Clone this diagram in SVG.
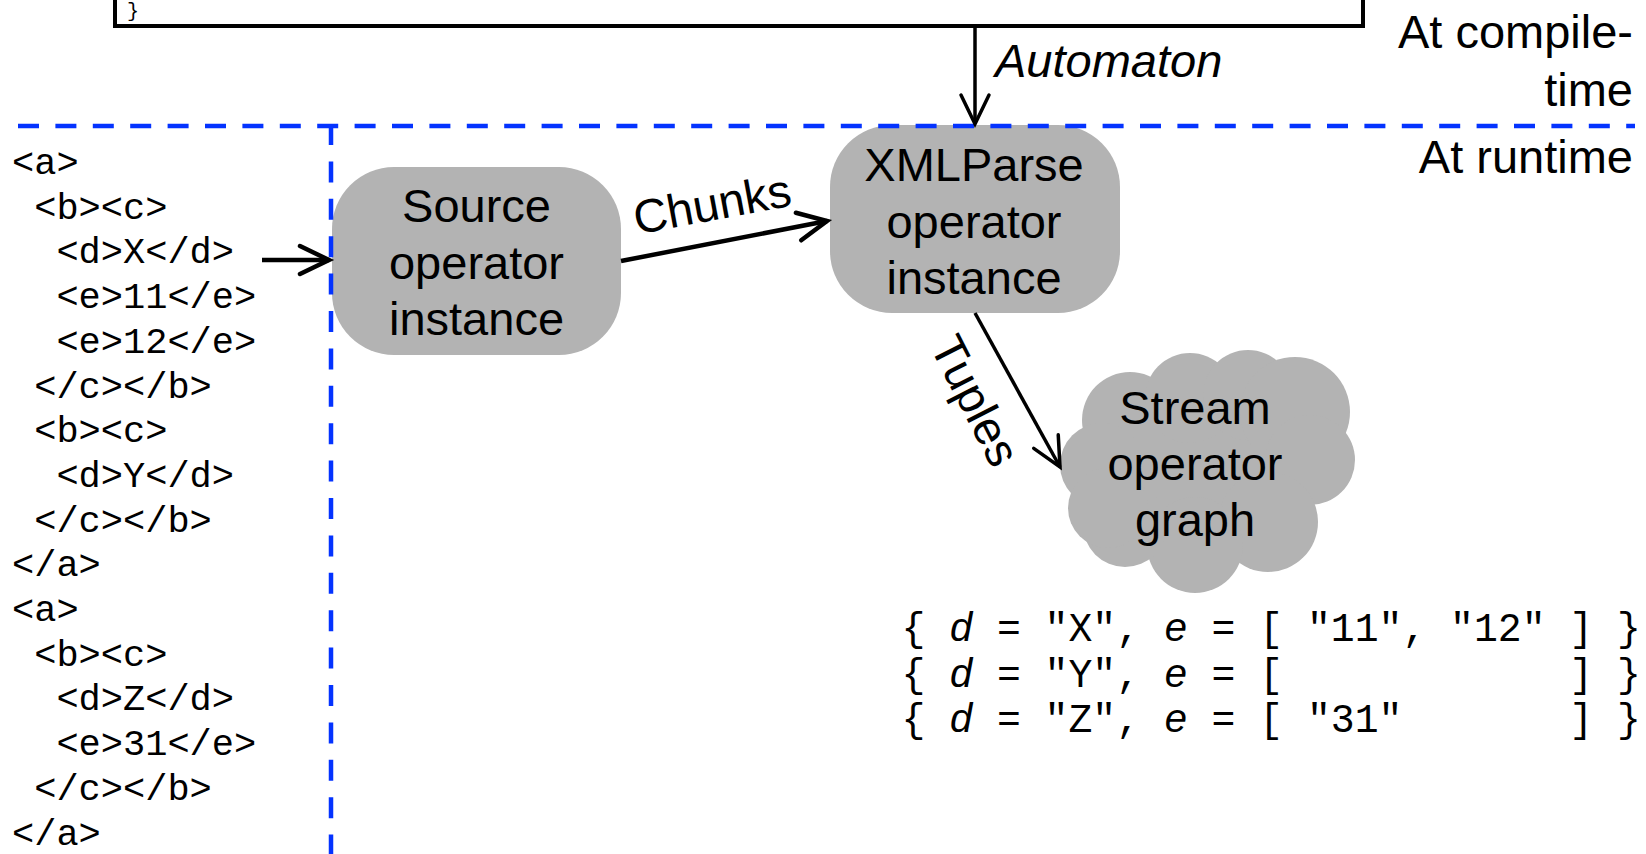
<svg xmlns="http://www.w3.org/2000/svg" width="1646" height="854" viewBox="0 0 1646 854">
<style>
.lbl{font-family:"Liberation Sans",Arial,sans-serif;font-size:47px;fill:#000}
.ctr{text-anchor:middle}
.end{text-anchor:end}
.it{font-style:italic}
.xml{font-family:"Liberation Mono","Courier New",monospace;font-size:37px;fill:#000}
.tup{font-family:"Liberation Mono","Courier New",monospace;font-size:39.75px;fill:#000}
.tvar{font-family:"Liberation Sans",Arial,sans-serif;font-style:italic;font-size:40px;fill:#000;text-anchor:middle}
.node{fill:#b3b3b3}
.dash{stroke:#0433ff;stroke-width:4.5;stroke-dasharray:21 16.4;fill:none}
.conn{stroke:#000;fill:none}
</style>
<defs>
<marker id="ahA" markerUnits="userSpaceOnUse" markerWidth="40" markerHeight="40" refX="32" refY="16" orient="auto" overflow="visible">
<path d="M3,2 L32,16 L3,30" fill="none" stroke="#000" stroke-width="4.5" stroke-linecap="round"/>
</marker>
<marker id="ahB" markerUnits="userSpaceOnUse" markerWidth="40" markerHeight="40" refX="32" refY="16" orient="auto" overflow="visible">
<path d="M3,2 L32,16 L3,30" fill="none" stroke="#000" stroke-width="3.5" stroke-linecap="round"/>
</marker>
</defs>
<rect width="1646" height="854" fill="#fff"/>

<g id="compiler-box">
<rect x="115" y="-30" width="1248" height="56" fill="#fff" stroke="#000" stroke-width="4"/>
<text x="127" y="17" class="xml" style="font-size:20px">}</text>
</g>

<g id="xml-input">
<text class="xml" x="12" y="174">&lt;a&gt;</text>
<text class="xml" x="34.2" y="218.7">&lt;b&gt;&lt;c&gt;</text>
<text class="xml" x="56.4" y="263.4">&lt;d&gt;X&lt;/d&gt;</text>
<text class="xml" x="56.4" y="308.1">&lt;e&gt;11&lt;/e&gt;</text>
<text class="xml" x="56.4" y="352.8">&lt;e&gt;12&lt;/e&gt;</text>
<text class="xml" x="34.2" y="397.5">&lt;/c&gt;&lt;/b&gt;</text>
<text class="xml" x="34.2" y="442.2">&lt;b&gt;&lt;c&gt;</text>
<text class="xml" x="56.4" y="486.9">&lt;d&gt;Y&lt;/d&gt;</text>
<text class="xml" x="34.2" y="531.6">&lt;/c&gt;&lt;/b&gt;</text>
<text class="xml" x="12" y="576.3">&lt;/a&gt;</text>
<text class="xml" x="12" y="621">&lt;a&gt;</text>
<text class="xml" x="34.2" y="665.7">&lt;b&gt;&lt;c&gt;</text>
<text class="xml" x="56.4" y="710.4">&lt;d&gt;Z&lt;/d&gt;</text>
<text class="xml" x="56.4" y="755.1">&lt;e&gt;31&lt;/e&gt;</text>
<text class="xml" x="34.2" y="799.8">&lt;/c&gt;&lt;/b&gt;</text>
<text class="xml" x="12" y="844.5">&lt;/a&gt;</text>
</g>

<g id="source-node">
<rect class="node" x="332" y="167" width="289" height="188" rx="62" ry="62"/>
<text class="lbl ctr" x="476.5" y="222">Source</text>
<text class="lbl ctr" x="476.5" y="279">operator</text>
<text class="lbl ctr" x="476.5" y="335">instance</text>
</g>

<g id="xmlparse-node">
<rect class="node" x="830" y="125" width="290" height="188" rx="62" ry="62"/>
<text class="lbl ctr" x="974" y="181">XMLParse</text>
<text class="lbl ctr" x="974" y="238">operator</text>
<text class="lbl ctr" x="974" y="294">instance</text>
</g>

<g id="stream-graph">
<g class="node">
<ellipse cx="1205" cy="470" rx="110" ry="95"/>
<circle cx="1130" cy="420" r="48"/>
<circle cx="1190" cy="398" r="45"/>
<circle cx="1248" cy="395" r="45"/>
<circle cx="1295" cy="412" r="55"/>
<circle cx="1310" cy="460" r="45"/>
<circle cx="1268" cy="522" r="50"/>
<circle cx="1195" cy="545" r="48"/>
<circle cx="1125" cy="525" r="42"/>
<circle cx="1102" cy="465" r="42"/>
<circle cx="1108" cy="508" r="40"/>
</g>
<text class="lbl ctr" x="1195" y="424">Stream</text>
<text class="lbl ctr" x="1195" y="480">operator</text>
<text class="lbl ctr" x="1195" y="536">graph</text>
</g>

<g id="phase-separators">
<line class="dash" x1="18" y1="126" x2="1635" y2="126"/>
<line class="dash" x1="331" y1="124" x2="331" y2="854"/>
</g>

<g id="phase-labels">
<text class="lbl end" x="1633" y="48">At compile-</text>
<text class="lbl end" x="1633" y="106">time</text>
<text class="lbl end" x="1633" y="173">At runtime</text>
</g>

<g id="connectors">
<line class="conn" x1="975" y1="26" x2="975" y2="124" stroke-width="3.5" marker-end="url(#ahB)"/>
<text class="lbl it" x="995" y="77">Automaton</text>
<line class="conn" x1="262" y1="260" x2="329" y2="260" stroke-width="4.5" marker-end="url(#ahA)"/>
<line class="conn" x1="621" y1="261" x2="827" y2="221" stroke-width="4.5" marker-end="url(#ahA)"/>
<text class="lbl ctr" x="715" y="220" transform="rotate(-10.5 715 220)">Chunks</text>
<line class="conn" x1="975" y1="313" x2="1060" y2="467" stroke-width="3.5" marker-end="url(#ahB)"/>
<text class="lbl ctr" x="961" y="408" transform="rotate(63 961 408)">Tuples</text>
</g>

<g id="tuples-output">
<text class="tup" y="641"><tspan x="901.5">{</tspan><tspan x="996.9">= "X",</tspan><tspan x="1211.55">= [ "11", "12" ] }</tspan></text>
<text class="tvar" x="961.1" y="641">d</text>
<text class="tvar" x="1175.8" y="641">e</text>
<text class="tup" y="686.5"><tspan x="901.5">{</tspan><tspan x="996.9">= "Y",</tspan><tspan x="1211.55">= [</tspan><tspan x="1569.3">] }</tspan></text>
<text class="tvar" x="961.1" y="686.5">d</text>
<text class="tvar" x="1175.8" y="686.5">e</text>
<text class="tup" y="732"><tspan x="901.5">{</tspan><tspan x="996.9">= "Z",</tspan><tspan x="1211.55">= [ "31"</tspan><tspan x="1569.3">] }</tspan></text>
<text class="tvar" x="961.1" y="732">d</text>
<text class="tvar" x="1175.8" y="732">e</text>
</g>
</svg>
